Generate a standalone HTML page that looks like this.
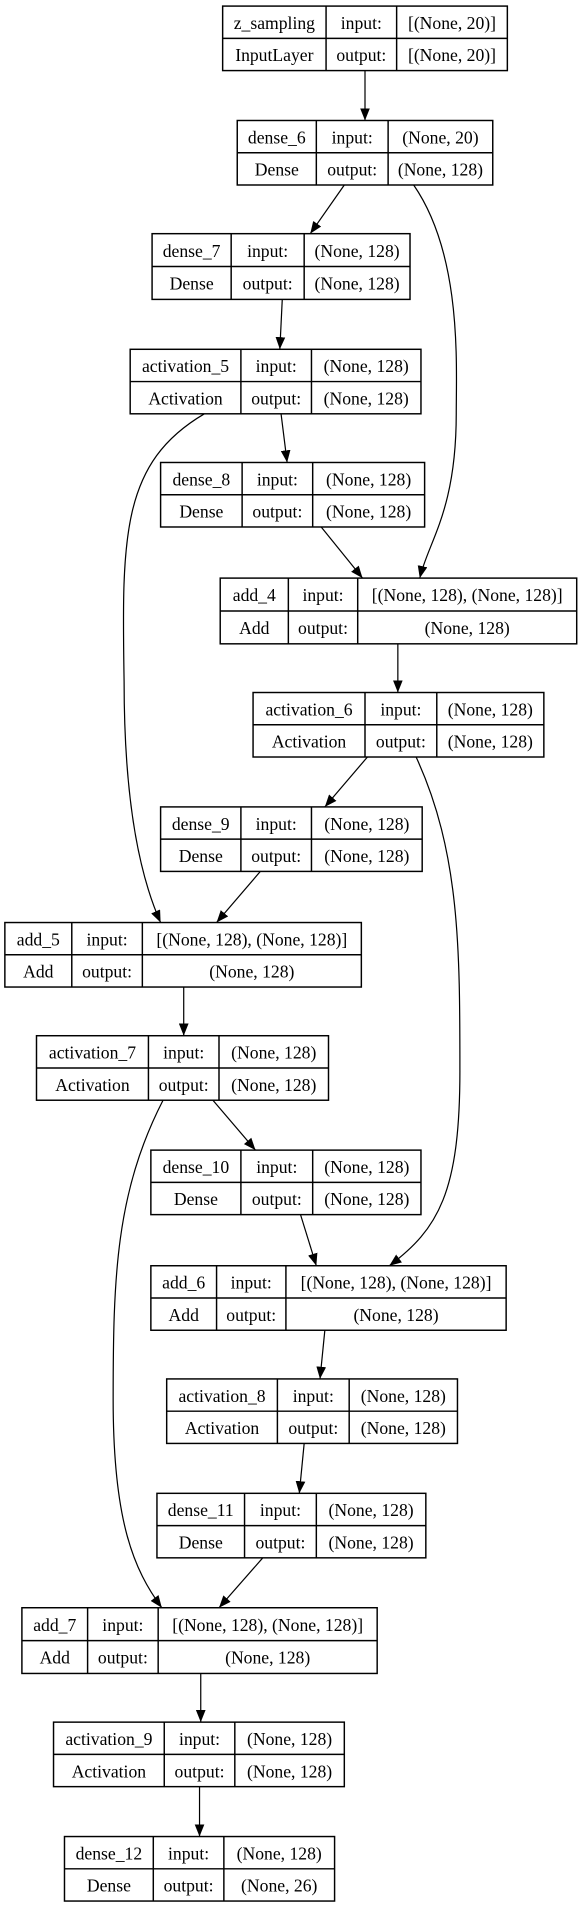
<!DOCTYPE html>
<html><head><meta charset="utf-8"><style>
html,body{margin:0;padding:0;background:#fff;}
svg{display:block;}
text{font-family:"Liberation Serif",serif;font-size:14.5px;fill:#000;text-anchor:middle;}
.b{fill:#fff;stroke:#000;stroke-width:1.2;}
.l{fill:none;stroke:#000;stroke-width:1.2;}
</style></head><body>
<svg width="584" height="1912" viewBox="0 0 480 1571" preserveAspectRatio="none" xmlns="http://www.w3.org/2000/svg">
<defs><marker id="a" markerWidth="10" markerHeight="8" refX="10" refY="4" orient="auto" markerUnits="userSpaceOnUse"><path d="M0,0 L10,4 L0,8 z" fill="#000"/></marker></defs>
<g fill="none" stroke="#000" stroke-width="1">
<path d="M300 58 L300 99" marker-end="url(#a)"/>
<path d="M283 152 L255 192" marker-end="url(#a)"/>
<path d="M340 152 C380 210,375 300,375 340 C375 420,352 445,345 475" marker-end="url(#a)"/>
<path d="M232 246 L230 287" marker-end="url(#a)"/>
<path d="M231 340 L236 380" marker-end="url(#a)"/>
<path d="M168 340 C100 380,100 440,102 560 C102 660,115 720,132 758" marker-end="url(#a)"/>
<path d="M264 433 L298 475" marker-end="url(#a)"/>
<path d="M327 529 L327 569" marker-end="url(#a)"/>
<path d="M302 622 L267 663" marker-end="url(#a)"/>
<path d="M342 622 C378 700,378 780,378 880 C378 980,360 1010,320 1040" marker-end="url(#a)"/>
<path d="M214 716 L178 758" marker-end="url(#a)"/>
<path d="M151 811 L151 851" marker-end="url(#a)"/>
<path d="M175 904 L210 945" marker-end="url(#a)"/>
<path d="M134 904 C95 980,93 1050,93 1150 C93 1250,110 1290,133 1321" marker-end="url(#a)"/>
<path d="M247 998 L260 1040" marker-end="url(#a)"/>
<path d="M267 1093 L263 1133" marker-end="url(#a)"/>
<path d="M250 1186 L246 1227" marker-end="url(#a)"/>
<path d="M216 1280 L180 1321" marker-end="url(#a)"/>
<path d="M165 1375 L165 1415" marker-end="url(#a)"/>
<path d="M164 1468 L164 1509" marker-end="url(#a)"/>
</g>

<rect class="b" x="183" y="5" width="234" height="53"/><path class="l" d="M183 31.5H417M268 5V58M326 5V58"/>
<text x="225.5" y="23.8">z_sampling</text><text x="225.5" y="50.3">InputLayer</text><text x="297" y="23.8">input:</text><text x="297" y="50.3">output:</text><text x="371.5" y="23.8">[(None, 20)]</text><text x="371.5" y="50.3">[(None, 20)]</text>

<rect class="b" x="195" y="99" width="210" height="53"/><path class="l" d="M195 125.5H405M260 99V152M319 99V152"/>
<text x="227.5" y="117.8">dense_6</text><text x="227.5" y="144.3">Dense</text><text x="289.5" y="117.8">input:</text><text x="289.5" y="144.3">output:</text><text x="362" y="117.8">(None, 20)</text><text x="362" y="144.3">(None, 128)</text>

<rect class="b" x="125" y="192" width="212" height="54"/><path class="l" d="M125 219H337M190 192V246M250 192V246"/>
<text x="157.5" y="211">dense_7</text><text x="157.5" y="238">Dense</text><text x="220" y="211">input:</text><text x="220" y="238">output:</text><text x="293.5" y="211">(None, 128)</text><text x="293.5" y="238">(None, 128)</text>

<rect class="b" x="107" y="287" width="239" height="53"/><path class="l" d="M107 313.5H346M198 287V340M256 287V340"/>
<text x="152.5" y="305.8">activation_5</text><text x="152.5" y="332.3">Activation</text><text x="227" y="305.8">input:</text><text x="227" y="332.3">output:</text><text x="301" y="305.8">(None, 128)</text><text x="301" y="332.3">(None, 128)</text>

<rect class="b" x="132" y="380" width="217" height="53"/><path class="l" d="M132 406.5H349M199 380V433M257 380V433"/>
<text x="165.5" y="398.8">dense_8</text><text x="165.5" y="425.3">Dense</text><text x="228" y="398.8">input:</text><text x="228" y="425.3">output:</text><text x="303" y="398.8">(None, 128)</text><text x="303" y="425.3">(None, 128)</text>

<rect class="b" x="181" y="475" width="293" height="54"/><path class="l" d="M181 502H474M237 475V529M294 475V529"/>
<text x="209" y="494">add_4</text><text x="209" y="521">Add</text><text x="265.5" y="494">input:</text><text x="265.5" y="521">output:</text><text x="384" y="494">[(None, 128), (None, 128)]</text><text x="384" y="521">(None, 128)</text>

<rect class="b" x="208" y="569" width="239" height="53"/><path class="l" d="M208 595.5H447M300 569V622M359 569V622"/>
<text x="254" y="587.8">activation_6</text><text x="254" y="614.3">Activation</text><text x="329.5" y="587.8">input:</text><text x="329.5" y="614.3">output:</text><text x="403" y="587.8">(None, 128)</text><text x="403" y="614.3">(None, 128)</text>

<rect class="b" x="132" y="663" width="215" height="53"/><path class="l" d="M132 689.5H347M198 663V716M256 663V716"/>
<text x="165" y="681.8">dense_9</text><text x="165" y="708.3">Dense</text><text x="227" y="681.8">input:</text><text x="227" y="708.3">output:</text><text x="301.5" y="681.8">(None, 128)</text><text x="301.5" y="708.3">(None, 128)</text>

<rect class="b" x="4" y="758" width="293" height="53"/><path class="l" d="M4 784.5H297M59 758V811M117 758V811"/>
<text x="31.5" y="776.8">add_5</text><text x="31.5" y="803.3">Add</text><text x="88" y="776.8">input:</text><text x="88" y="803.3">output:</text><text x="207" y="776.8">[(None, 128), (None, 128)]</text><text x="207" y="803.3">(None, 128)</text>

<rect class="b" x="30" y="851" width="240" height="53"/><path class="l" d="M30 877.5H270M122 851V904M180 851V904"/>
<text x="76" y="869.8">activation_7</text><text x="76" y="896.3">Activation</text><text x="151" y="869.8">input:</text><text x="151" y="896.3">output:</text><text x="225" y="869.8">(None, 128)</text><text x="225" y="896.3">(None, 128)</text>

<rect class="b" x="124" y="945" width="222" height="53"/><path class="l" d="M124 971.5H346M198 945V998M257 945V998"/>
<text x="161" y="963.8">dense_10</text><text x="161" y="990.3">Dense</text><text x="227.5" y="963.8">input:</text><text x="227.5" y="990.3">output:</text><text x="301.5" y="963.8">(None, 128)</text><text x="301.5" y="990.3">(None, 128)</text>

<rect class="b" x="124" y="1040" width="292" height="53"/><path class="l" d="M124 1066.5H416M178 1040V1093M235 1040V1093"/>
<text x="151" y="1058.8">add_6</text><text x="151" y="1085.3">Add</text><text x="206.5" y="1058.8">input:</text><text x="206.5" y="1085.3">output:</text><text x="325.5" y="1058.8">[(None, 128), (None, 128)]</text><text x="325.5" y="1085.3">(None, 128)</text>

<rect class="b" x="137" y="1133" width="239" height="53"/><path class="l" d="M137 1159.5H376M228 1133V1186M287 1133V1186"/>
<text x="182.5" y="1151.8">activation_8</text><text x="182.5" y="1178.3">Activation</text><text x="257.5" y="1151.8">input:</text><text x="257.5" y="1178.3">output:</text><text x="331.5" y="1151.8">(None, 128)</text><text x="331.5" y="1178.3">(None, 128)</text>

<rect class="b" x="129" y="1227" width="221" height="53"/><path class="l" d="M129 1253.5H350M201 1227V1280M260 1227V1280"/>
<text x="165" y="1245.8">dense_11</text><text x="165" y="1272.3">Dense</text><text x="230.5" y="1245.8">input:</text><text x="230.5" y="1272.3">output:</text><text x="305" y="1245.8">(None, 128)</text><text x="305" y="1272.3">(None, 128)</text>

<rect class="b" x="18" y="1321" width="292" height="54"/><path class="l" d="M18 1348H310M72 1321V1375M130 1321V1375"/>
<text x="45" y="1340">add_7</text><text x="45" y="1367">Add</text><text x="101" y="1340">input:</text><text x="101" y="1367">output:</text><text x="220" y="1340">[(None, 128), (None, 128)]</text><text x="220" y="1367">(None, 128)</text>

<rect class="b" x="44" y="1415" width="239" height="53"/><path class="l" d="M44 1441.5H283M135 1415V1468M193 1415V1468"/>
<text x="89.5" y="1433.8">activation_9</text><text x="89.5" y="1460.3">Activation</text><text x="164" y="1433.8">input:</text><text x="164" y="1460.3">output:</text><text x="238" y="1433.8">(None, 128)</text><text x="238" y="1460.3">(None, 128)</text>

<rect class="b" x="53" y="1509" width="222" height="53"/><path class="l" d="M53 1535.5H275M126 1509V1562M184 1509V1562"/>
<text x="89.5" y="1527.8">dense_12</text><text x="89.5" y="1554.3">Dense</text><text x="155" y="1527.8">input:</text><text x="155" y="1554.3">output:</text><text x="229.5" y="1527.8">(None, 128)</text><text x="229.5" y="1554.3">(None, 26)</text>
</svg>
</body></html>
